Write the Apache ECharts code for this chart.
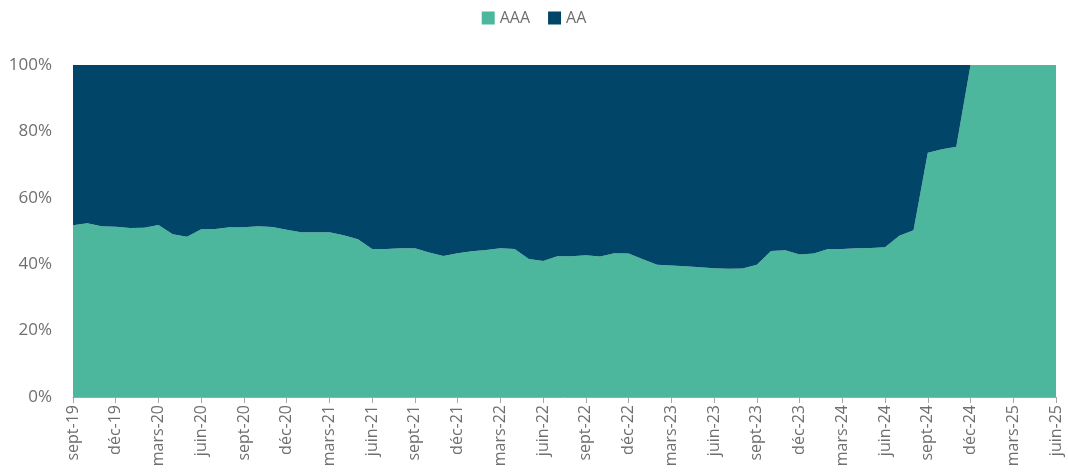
<!DOCTYPE html>
<html>
<head>
<meta charset="utf-8">
<script src="https://cdn.jsdelivr.net/npm/echarts@6/dist/echarts.min.js"></script>
<style>
  html, body { margin: 0; padding: 0; background: #fff; }
  #chart { width: 1068px; height: 475px; }
</style>
</head>
<body>
<div id="chart"></div>
<script>
const monthNames = ['janv', 'févr', 'mars', 'avr', 'mai', 'juin', 'juil', 'août', 'sept', 'oct', 'nov', 'déc'];
const startYear = 2019;
const startMonth = 8; // sept
const monthCount = 70;

const aaa = [
    51.7, 52.3, 51.4, 51.3, 50.9, 51.0, 51.8, 49.0, 48.3, 50.5,
    50.6, 51.1, 51.1, 51.4, 51.2, 50.4, 49.6, 49.6, 49.6, 48.7,
    47.5, 44.6, 44.6, 44.8, 44.8, 43.5, 42.5, 43.3, 43.9, 44.3,
    44.8, 44.6, 41.6, 41.0, 42.4, 42.4, 42.7, 42.3, 43.3, 43.2,
    41.5, 39.8, 39.6, 39.4, 39.1, 38.8, 38.6, 38.7, 39.8, 44.0,
    44.2, 42.9, 43.2, 44.6, 44.6, 44.8, 44.9, 45.1, 48.6, 50.2,
    73.6, 74.6, 75.4, 100, 100, 100, 100, 100, 100, 100
];
const aa = [
    48.3, 47.7, 48.6, 48.7, 49.1, 49.0, 48.2, 51.0, 51.7, 49.5,
    49.4, 48.9, 48.9, 48.6, 48.8, 49.6, 50.4, 50.4, 50.4, 51.3,
    52.5, 55.4, 55.4, 55.2, 55.2, 56.5, 57.5, 56.7, 56.1, 55.7,
    55.2, 55.4, 58.4, 59.0, 57.6, 57.6, 57.3, 57.7, 56.7, 56.8,
    58.5, 60.2, 60.4, 60.6, 60.9, 61.2, 61.4, 61.3, 60.2, 56.0,
    55.8, 57.1, 56.8, 55.4, 55.4, 55.2, 55.1, 54.9, 51.4, 49.8,
    26.4, 25.4, 24.6, 0, 0, 0, 0, 0, 0, 0
];

const categories = [];
for (let i = 0; i < monthCount; i++) {
    const m = (startMonth + i) % 12;
    const y = startYear + Math.floor((startMonth + i) / 12);
    categories.push(monthNames[m] + '-' + String(y).slice(2));
}

const textColor = '#6f6f6f';
const fontFamily = '"Open Sans", sans-serif';

let chart = echarts.init(document.getElementById('chart'));
chart.setOption({
    animation: false,
    textStyle: { fontFamily: fontFamily },
    legend: {
        top: 5,
        left: 'center',
        icon: 'rect',
        itemWidth: 13,
        itemHeight: 13,
        itemGap: 18,
        textStyle: { color: textColor, fontSize: 16, fontFamily: fontFamily },
        data: ['AAA', 'AA']
    },
    grid: { left: 73, right: 12, top: 65, bottom: 78 },
    xAxis: {
        type: 'category',
        boundaryGap: false,
        data: categories,
        axisLine: { lineStyle: { color: '#a6a6a6' } },
        axisTick: { interval: 2, length: 6, lineStyle: { color: '#a6a6a6' } },
        axisLabel: {
            interval: 2,
            rotate: 90,
            color: textColor,
            fontSize: 16,
            margin: 8,
            fontFamily: fontFamily
        }
    },
    yAxis: {
        type: 'value',
        min: 0,
        max: 100,
        interval: 20,
        axisLine: { show: false },
        axisTick: { show: false },
        splitLine: { show: false },
        axisLabel: {
            formatter: '{value}%',
            color: textColor,
            fontSize: 17,
            margin: 21,
            fontFamily: fontFamily
        }
    },
    series: [{
        name: 'AAA',
        type: 'line',
        stack: 'total',
        data: aaa,
        symbol: 'none',
        lineStyle: { width: 0 },
        areaStyle: { color: '#4cb79c', opacity: 1 },
        itemStyle: { color: '#4cb79c' }
    }, {
        name: 'AA',
        type: 'line',
        stack: 'total',
        data: aa,
        symbol: 'none',
        lineStyle: { width: 0 },
        areaStyle: { color: '#014668', opacity: 1 },
        itemStyle: { color: '#014668' }
    }]
});
</script>
</body>
</html>
